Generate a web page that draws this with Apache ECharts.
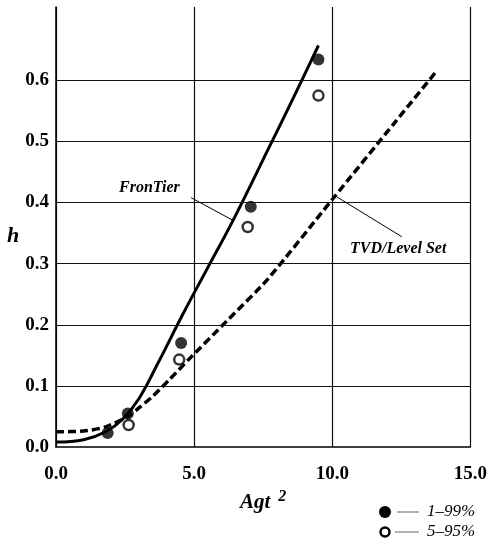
<!DOCTYPE html>
<html>
<head>
<meta charset="utf-8">
<script src="https://cdn.jsdelivr.net/npm/echarts@6/dist/echarts.min.js"></script>
<style>
  html, body { margin: 0; padding: 0; background: #fff; }
  #chart { width: 490px; height: 547px; }
</style>
</head>
<body>
<div id="chart"></div>
<script>
// FronTier curve (solid)
const frontierX = [0, 1.0, 1.8, 2.4, 3.0, 3.7, 4.6, 5.5, 6.4, 7.7, 8.6, 9.5];
const frontierH = [0.008, 0.012, 0.025, 0.045, 0.079, 0.138, 0.218, 0.294, 0.37, 0.489, 0.572, 0.657];
// TVD/Level Set curve (dashed)
const levelSetX = [0, 1.0, 1.8, 2.6, 3.0, 3.5, 4.1, 4.8, 6.2, 7.65, 10.0, 12.3, 13.74];
const levelSetH = [0.025, 0.026, 0.033, 0.05, 0.064, 0.083, 0.11, 0.143, 0.207, 0.274, 0.405, 0.533, 0.613];
// experiment points
const pts199X = [1.87, 2.6, 4.53, 7.05, 9.5];
const pts199H = [0.023, 0.055, 0.17, 0.393, 0.634];
const pts595X = [2.63, 4.46, 6.94, 9.5];
const pts595H = [0.036, 0.143, 0.36, 0.575];
// horizontal grid lines / labelled ticks
const yTicks = [0.1, 0.2, 0.3, 0.4, 0.5, 0.6];

function zip(xs, ys) { return xs.map(function (x, i) { return [x, ys[i]]; }); }

const serif = '"Liberation Serif", "DejaVu Serif", serif';
const chart = echarts.init(document.getElementById('chart'));

const option = {
  backgroundColor: '#fff',
  animation: false,
  grid: { left: 56, right: 17, top: 7, bottom: 100 },
  xAxis: {
    type: 'value', min: 0, max: 15, interval: 5,
    name: 'Agt{sup|2}', nameLocation: 'middle', nameGap: 36,
    nameTextStyle: {
      fontFamily: serif, fontStyle: 'italic', fontWeight: 'bold', fontSize: 21, color: '#000',
      rich: { sup: { fontFamily: serif, fontWeight: 'bold', fontSize: 16, verticalAlign: 'top', padding: [0, 0, 12, 8], color: '#000' } }
    },
    axisLine: { show: true, lineStyle: { color: '#000', width: 1.5 } },
    axisTick: { show: false },
    axisLabel: { fontFamily: serif, fontWeight: 'bold', fontSize: 19, color: '#000', margin: 18,
      formatter: function (v) { return v.toFixed(1); } },
    splitLine: { show: true, lineStyle: { color: '#111', width: 1.2 } }
  },
  yAxis: {
    type: 'value', min: 0, max: 0.72, interval: 0.1,
    axisLine: { show: true, lineStyle: { color: '#000', width: 1.5 } },
    axisTick: { show: false },
    axisLabel: { fontFamily: serif, fontWeight: 'bold', fontSize: 19, color: '#000', margin: 7,
      formatter: function (v) { return v > 0.65 ? '' : v.toFixed(1); } },
    splitLine: { show: false }
  },
  series: [
    {
      type: 'line', data: [], z: 1, silent: true,
      markLine: {
        silent: true, symbol: 'none', animation: false,
        label: { show: false },
        lineStyle: { color: '#111', width: 1.2, type: 'solid' },
        data: yTicks.map(function (v) { return { yAxis: v }; })
      }
    },
    {
      name: 'FronTier', type: 'line', data: zip(frontierX, frontierH), smooth: 0.4,
      showSymbol: false, z: 3, lineStyle: { color: '#000', width: 3 }
    },
    {
      name: 'TVD/Level Set', type: 'line', data: zip(levelSetX, levelSetH), smooth: 0.25,
      showSymbol: false, z: 3, lineStyle: { color: '#000', width: 3.5, type: [8, 4] }
    },
    {
      name: '1-99%', type: 'scatter', data: zip(pts199X, pts199H), symbolSize: 12, z: 4,
      itemStyle: { color: '#000' }
    },
    {
      name: '5-95%', type: 'scatter', data: zip(pts595X, pts595H), symbolSize: 10, z: 4,
      itemStyle: { color: '#fff', borderColor: '#000', borderWidth: 2.5 }
    },
    {
      type: 'line', data: [], silent: true, z: 2,
      markLine: {
        silent: true, symbol: 'none', animation: false, label: { show: false },
        lineStyle: { color: '#000', width: 1, type: 'solid' },
        data: [
          [{ coord: [4.89, 0.408] }, { coord: [6.44, 0.37] }],
          [{ coord: [10.14, 0.41] }, { coord: [12.52, 0.344] }]
        ]
      }
    }
  ],
  graphic: [
    { type: 'text', left: 7, top: 225, style: { text: 'h', font: 'italic bold 22px ' + serif, fill: '#000' } },
    { type: 'text', left: 119, top: 180, style: { text: 'FronTier', font: 'italic bold 16px ' + serif, fill: '#000' } },
    { type: 'text', left: 350, top: 241, style: { text: 'TVD/Level Set', font: 'italic bold 16px ' + serif, fill: '#000' } },
    { type: 'circle', shape: { cx: 385, cy: 512, r: 6 }, style: { fill: '#000' } },
    { type: 'line', shape: { x1: 397, y1: 512, x2: 419, y2: 512 }, style: { stroke: '#666', lineWidth: 1 } },
    { type: 'text', left: 427, top: 503, style: { text: '1–99%', font: 'italic 17px ' + serif, fill: '#000' } },
    { type: 'circle', shape: { cx: 385, cy: 532, r: 4.5 }, style: { fill: '#fff', stroke: '#000', lineWidth: 2.5 } },
    { type: 'line', shape: { x1: 395, y1: 532, x2: 419, y2: 532 }, style: { stroke: '#666', lineWidth: 1 } },
    { type: 'text', left: 427, top: 523, style: { text: '5–95%', font: 'italic 17px ' + serif, fill: '#000' } }
  ]
};

chart.setOption(option);
</script>
</body>
</html>
